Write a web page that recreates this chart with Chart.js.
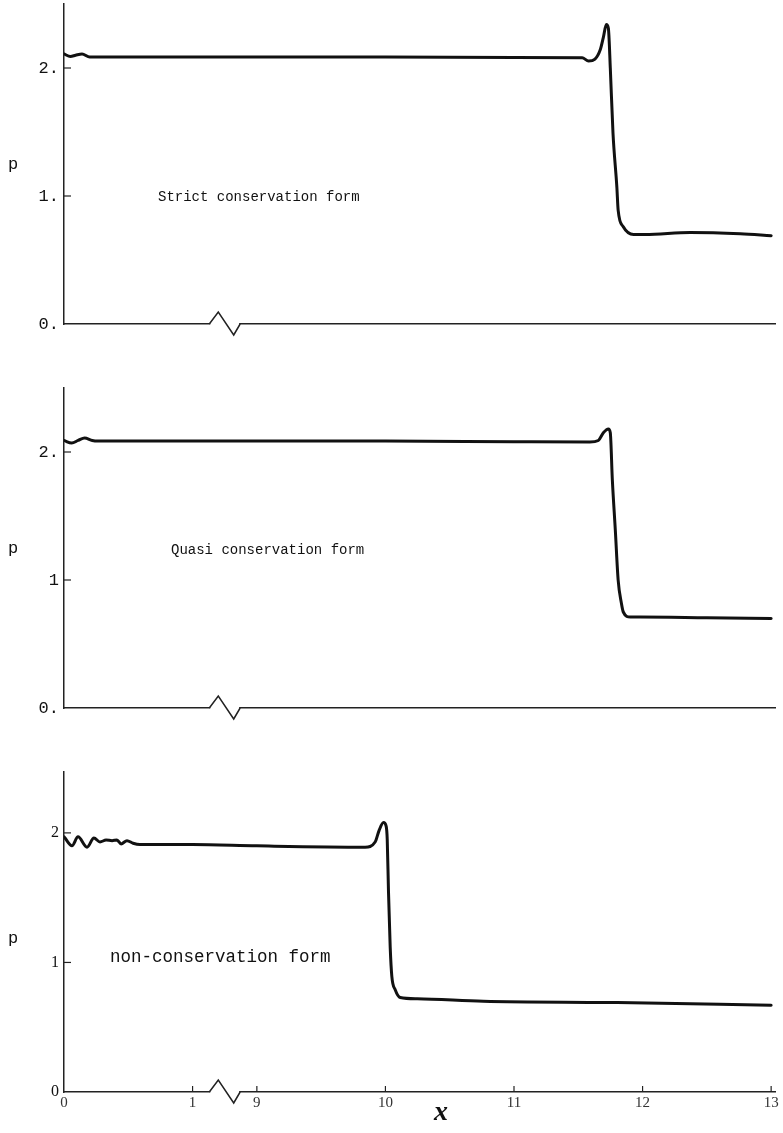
<!DOCTYPE html>
<html>
<head>
<meta charset="utf-8">
<script src="https://cdn.jsdelivr.net/npm/chart.js@4.4.1/dist/chart.umd.min.js"></script>
<style>
  html, body { margin: 0; padding: 0; background: #fff; }
  #page { position: relative; width: 783px; height: 1133px; }
  canvas { position: absolute; left: 0; }
</style>
</head>
<body>
<div id="page">
  <canvas id="strict" width="783" height="345" style="top:0px"></canvas>
  <canvas id="quasi" width="783" height="360" style="top:370px"></canvas>
  <canvas id="nonCons" width="783" height="383" style="top:750px"></canvas>
</div>
<script>
// x positions along the tube and p
const strictX = [0, 0.05, 0.09, 0.14, 0.2, 1, 9, 10, 11, 11.53, 11.58, 11.63, 11.67, 11.695, 11.718, 11.734, 11.749, 11.77, 11.8, 11.81, 11.85, 11.93, 12.02, 12.37, 12.76, 13]
const strictP = [2.11, 2.09, 2.1, 2.11, 2.085, 2.085, 2.085, 2.085, 2.082, 2.08, 2.055, 2.07, 2.14, 2.24, 2.34, 2.31, 2.0, 1.49, 1.07, 0.89, 0.76, 0.7, 0.7, 0.715, 0.705, 0.69]

const quasiX = [0, 0.06, 0.11, 0.16, 0.22, 0.26, 1, 9, 10, 11, 11.59, 11.656, 11.695, 11.734, 11.749, 11.765, 11.788, 11.81, 11.835, 11.85, 11.905, 11.98, 12.5, 13]
const quasiP = [2.09, 2.07, 2.09, 2.11, 2.09, 2.085, 2.085, 2.085, 2.085, 2.08, 2.078, 2.09, 2.15, 2.18, 2.15, 1.78, 1.39, 1.0, 0.82, 0.75, 0.71, 0.71, 0.705, 0.7]

const nonX = [0, 0.008, 0.062, 0.109, 0.179, 0.233, 0.28, 0.327, 0.374, 0.412, 0.444, 0.49, 0.537, 0.591, 1, 9, 9.842, 9.92, 9.951, 9.985, 10.006, 10.014, 10.024, 10.037, 10.05, 10.076, 10.115, 10.247, 10.761, 11.804, 13]
const nonP = [1.97, 1.96, 1.9, 1.97, 1.89, 1.96, 1.93, 1.945, 1.94, 1.945, 1.915, 1.94, 1.92, 1.91, 1.91, 1.9, 1.89, 1.93, 2.02, 2.08, 2.05, 1.95, 1.54, 1.12, 0.89, 0.79, 0.73, 0.72, 0.7, 0.69, 0.67]

// tick labels
const xTickValues = [1, 9, 10, 11, 12, 13]
const xTickLabels = ['0', '1', '9', '10', '11', '12', '13']
const yTickValues = [0, 1, 2]
const yLabelsStrict = ['0.', '1.', '2.']
const yLabelsQuasi = ['0.', '1', '2.']
const yLabelsNon = ['0', '1', '2']

const X_MAX = 5.53
const INK = '#111'

// axis is broken between 1 and 9: that stretch is squeezed into half a unit
function toAxis(x) {
  if (x <= 1) return x
  if (x >= 9) return x - 7.5
  return 1 + (x - 1) * 0.5 / 8
}

function decor(o) {
  return {
    id: 'decor' + o.id,
    afterDraw(chart) {
      const ctx = chart.ctx
      const xs = chart.scales.x
      const ys = chart.scales.y
      const base = ys.getPixelForValue(0)
      const left = xs.left
      ctx.save()

      // axis break zigzag
      const b = [1.13, 1.2, 1.32, 1.37].map(u => xs.getPixelForValue(u))
      ctx.fillStyle = '#fff'
      ctx.fillRect(b[0] + 1, base - 2, b[3] - b[0] - 2, 4)
      ctx.strokeStyle = '#222'
      ctx.lineWidth = 1.5
      ctx.beginPath()
      ctx.moveTo(b[0], base)
      ctx.lineTo(b[1], base - 12)
      ctx.lineTo(b[2], base + 11)
      ctx.lineTo(b[3], base)
      ctx.stroke()

      // short inward tick marks
      ctx.lineWidth = 1.2
      yTickValues.slice(1).forEach(v => {
        const y = ys.getPixelForValue(v)
        ctx.beginPath()
        ctx.moveTo(left, y)
        ctx.lineTo(left + 7, y)
        ctx.stroke()
      })
      if (o.showXTicks) {
        xTickValues.forEach(v => {
          const x = xs.getPixelForValue(toAxis(v))
          ctx.beginPath()
          ctx.moveTo(x, base)
          ctx.lineTo(x, base - 6)
          ctx.stroke()
        })
      }

      // labels
      ctx.fillStyle = INK
      ctx.textBaseline = 'middle'
      ctx.textAlign = 'center'
      ctx.font = '17px "Liberation Mono"'
      ctx.fillText('p', 13, o.pY - o.top)
      ctx.textAlign = 'left'
      ctx.font = o.noteFont
      ctx.fillText(o.note, o.noteX, o.noteY - o.top)
      if (o.showXTicks) {
        ctx.textAlign = 'center'
        ctx.font = 'italic bold 28px "Liberation Serif"'
        ctx.fillText('x', 441, 1113 - o.top)
      }
      ctx.restore()
    }
  }
}

function makePanel(o, xs, ps) {
  const points = xs.map((x, i) => ({ x: toAxis(x), y: ps[i] }))
  return new Chart(document.getElementById(o.id), {
    type: 'line',
    data: {
      datasets: [{
        data: points,
        borderColor: INK,
        borderWidth: 3,
        pointRadius: 0,
        fill: false,
        cubicInterpolationMode: 'monotone',
        borderCapStyle: 'round',
        borderJoinStyle: 'round'
      }]
    },
    options: {
      responsive: false,
      animation: false,
      layout: { padding: { top: o.padTop, right: 8, left: 0, bottom: 0 } },
      plugins: { legend: { display: false }, tooltip: { enabled: false } },
      scales: {
        x: {
          type: 'linear',
          min: 0,
          max: X_MAX,
          afterBuildTicks: s => { s.ticks = [0].concat(xTickValues).map(v => ({ value: toAxis(v) })) },
          afterFit: s => {
            s.height = o.xAxisHeight
            s.paddingLeft = 0
            s.paddingRight = 0
          },
          grid: { display: false, drawTicks: false },
          border: { display: true, color: '#222', width: 1.5 },
          ticks: {
            display: o.showXTicks,
            autoSkip: false,
            maxRotation: 0,
            padding: 2,
            color: '#333',
            font: { family: 'Liberation Serif', size: 15 },
            callback: (v, i) => xTickLabels[i]
          }
        },
        y: {
          type: 'linear',
          min: 0,
          max: o.yMax,
          afterBuildTicks: s => { s.ticks = yTickValues.map(v => ({ value: v })) },
          afterFit: s => {
            s.width = 64
            s.paddingTop = 0
            s.paddingBottom = 0
          },
          grid: { display: false, drawTicks: false },
          border: { display: true, color: '#222', width: 1.5 },
          ticks: {
            padding: 5,
            color: INK,
            font: o.yFont,
            callback: (v, i) => o.yLabels[i]
          }
        }
      }
    },
    plugins: [decor(o)]
  })
}

const monoFont = { family: 'Liberation Mono', size: 17 }

makePanel({
  id: 'strict', top: 0, padTop: 4, xAxisHeight: 21, yMax: 2.5,
  yLabels: yLabelsStrict, yFont: monoFont, showXTicks: false,
  pY: 164, note: 'Strict conservation form', noteX: 158, noteY: 197, noteFont: '14px "Liberation Mono"'
}, strictX, strictP)

makePanel({
  id: 'quasi', top: 370, padTop: 18, xAxisHeight: 22, yMax: 2.5,
  yLabels: yLabelsQuasi, yFont: monoFont, showXTicks: false,
  pY: 548, note: 'Quasi conservation form', noteX: 171, noteY: 550, noteFont: '14px "Liberation Mono"'
}, quasiX, quasiP)

makePanel({
  id: 'nonCons', top: 750, padTop: 22, xAxisHeight: 41, yMax: 2.47,
  yLabels: yLabelsNon, yFont: { family: 'Liberation Serif', size: 16 }, showXTicks: true,
  pY: 938, note: 'non-conservation form', noteX: 110, noteY: 957, noteFont: '17.5px "Liberation Mono"'
}, nonX, nonP)
</script>
</body>
</html>
